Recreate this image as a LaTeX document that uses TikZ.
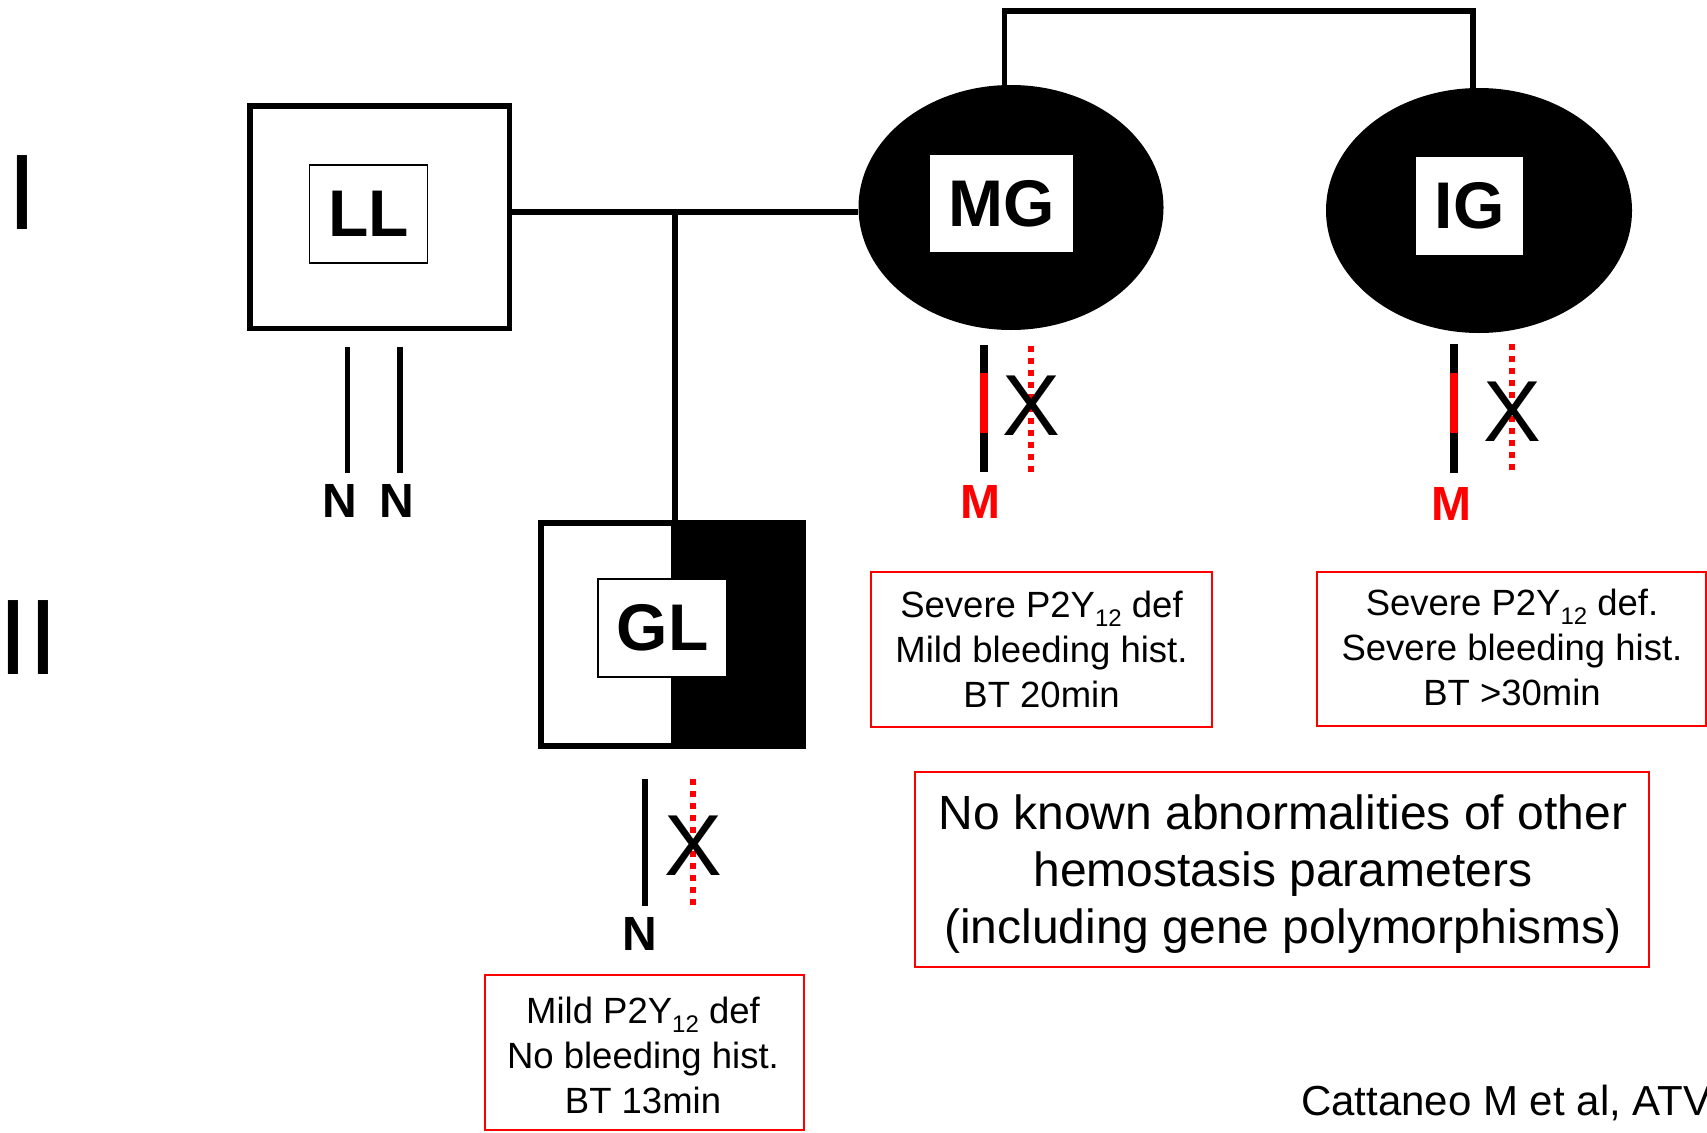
\documentclass[tikz,border=0pt]{standalone}
\usepackage{fontspec}
\setmainfont{Liberation Sans}
\usetikzlibrary{shapes.geometric}
\newcommand\smstrut{\rule[-10pt]{0pt}{40pt}}
\newcommand\bigstrut{\rule[-13pt]{0pt}{51pt}}
\newcommand\subtw{\raisebox{-9pt}{\fontsize{24}{24}\selectfont 12}}
\begin{document}
\begin{tikzpicture}[x=1pt,y=-1pt,
  pline/.style={line width=5.5pt, black},
  chromo/.style={line width=8pt},
  dotline/.style={red, line width=6pt, dash pattern=on 6pt off 6pt},
  redbox/.style={draw=red, line width=2pt, inner sep=0pt, fill=white},
  boxtext/.style={align=center, inner sep=0pt, font=\fontsize{36.5}{45}\selectfont},
  bigtext/.style={align=center, inner sep=0pt, font=\fontsize{48}{57}\selectfont},
  namefont/.style={inner sep=0pt, font=\bfseries\fontsize{66}{66}\selectfont},
  allele/.style={inner sep=0pt, anchor=base, font=\bfseries\fontsize{48}{48}\selectfont},
  cross/.style={inner sep=0pt, anchor=base, font=\fontsize{86.6}{86.6}\selectfont},
  gen/.style={inner sep=0pt, anchor=base west, font=\fontsize{107.5}{110}\selectfont}]
\useasboundingbox (0,0) rectangle (1707,1132);
\clip (0,0) rectangle (1707,1132);
\fill[white] (0,0) rectangle (1707,1132);

% generation labels
\node[gen] (genI) at (7,229) {I};
\node[gen] (genII) at (-2,674) {II};

% LL
\node[draw, line width=5.5pt, minimum width=259.5pt, minimum height=222.5pt, inner sep=0pt] (ll) at (379.5,217) {};
\node[draw, line width=1.5pt, minimum width=118pt, minimum height=98pt, namefont] (lllab) at (368.5,214) {LL};

% MG and IG
\node[ellipse, fill=black, minimum width=305pt, minimum height=245pt, inner sep=0pt] (mg) at (1011,207.5) {};
\node[fill=white, minimum width=143pt, minimum height=97pt, namefont] (mglab) at (1001.5,203.5) {MG};
\node[ellipse, fill=black, minimum width=306pt, minimum height=245pt, inner sep=0pt] (ig) at (1479,210.5) {};
\node[fill=white, minimum width=107pt, minimum height=98pt, namefont] (iglab) at (1469.5,206) {IG};

% GL
\node[draw, line width=6pt, minimum width=262pt, minimum height=223pt, inner sep=0pt] (gl) at (672,634.5) {};
\fill[black] ([xshift=-1pt]gl.north) rectangle (gl.south east);
\node[draw, fill=white, line width=1.5pt, minimum width=129pt, minimum height=98pt, namefont] (gllab) at (662.5,628) {GL};

% connectors
\coordinate (jn) at (675,212);
\coordinate (topc) at (1240,11);
\draw[pline] (ll.east |- jn) -- (mg.west |- jn);
\draw[pline] (jn) -- (jn |- gl.north);
\draw[pline] ([xshift=-6.5pt]mg.north) |- (topc) -| ([xshift=-6pt]ig.north);

% LL alleles
\draw[line width=5.5pt] (347.5,347) -- (347.5,473);
\draw[line width=5.5pt] (400,347) -- (400,473);
\node[allele] (lln1) at (340,517) {N};
\node[allele] (lln2) at (397,517) {N};

% MG alleles
\draw[chromo] (984,345) -- (984,472);
\draw[chromo, red] (984,373) -- (984,433);
\draw[dotline] (1031,346) -- (1031,474);
\node[cross] (mgx) at (1031.5,435) {X};
\node[allele, red] (mgm) at (980,518) {M};

% IG alleles
\draw[chromo] (1454,344) -- (1454,473);
\draw[chromo, red] (1454,373) -- (1454,433);
\draw[dotline] (1512,344) -- (1512,472);
\node[cross] (igx) at (1512.5,441) {X};
\node[allele, red] (igm) at (1451,520) {M};

% GL alleles
\draw[line width=6pt] (645,779) -- (645,906);
\draw[dotline] (693,779) -- (693,908);
\node[cross] (glx) at (693,875) {X};
\node[allele] (gln) at (640,950) {N};

% text boxes
\node[redbox, minimum width=341pt, minimum height=155pt] (mgbox) at (1041.5,649.5) {};
\node[boxtext] (mgtext) at (1041.5,652) {\smstrut Severe P2Y\subtw{} def\\\smstrut Mild bleeding hist.\\\smstrut BT 20min};
\node[redbox, minimum width=389pt, minimum height=154pt] (igbox) at (1511.5,649) {};
\node[boxtext] (igtext) at (1512,650) {\smstrut Severe P2Y\subtw{} def.\\\smstrut Severe bleeding hist.\\\smstrut BT >30min};
\node[redbox, minimum width=319pt, minimum height=155pt] (glbox) at (644.5,1052.5) {};
\node[boxtext] (gltext) at (643,1058) {\smstrut Mild P2Y\subtw{} def\\\smstrut No bleeding hist.\\\smstrut BT 13min};
\node[redbox, minimum width=734.5pt, minimum height=195pt] (bigbox) at (1282,869.5) {};
\node[bigtext] (bigtxt) at (1283,873.5) {\bigstrut No known abnormalities of other\\\bigstrut hemostasis parameters\\\bigstrut (including gene polymorphisms)};

% citation
\node[inner sep=0pt, anchor=base west, font=\fontsize{42}{42}\selectfont] (cite) at (1301,1115) {Cattaneo M et al, ATV};
\end{tikzpicture}
\end{document}
